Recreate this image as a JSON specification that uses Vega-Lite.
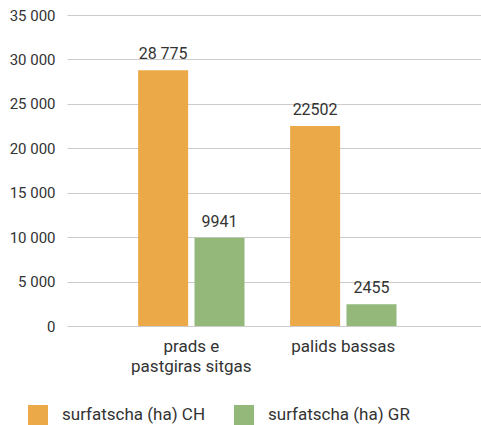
{
  "$schema": "https://vega.github.io/schema/vega-lite/v6.json",
  "width": 414,
  "height": 311,
  "autosize": {"type": "none"},
  "padding": {"left": 67, "top": 15, "right": 0, "bottom": 99},
  "background": "white",
  "config": {
    "font": "Roboto",
    "view": {"stroke": null},
    "axis": {"labelColor": "#333333", "labelFont": "Roboto"},
    "legend": {"labelColor": "#333333"}
  },
  "data": {
    "values": [
      {"kategoria": "prads e pastgiras sitgas", "serie": "surfatscha (ha) CH", "valur": 28775, "etichetta": "28 775"},
      {"kategoria": "prads e pastgiras sitgas", "serie": "surfatscha (ha) GR", "valur": 9941, "etichetta": "9941"},
      {"kategoria": "palids bassas", "serie": "surfatscha (ha) CH", "valur": 22502, "etichetta": "22502"},
      {"kategoria": "palids bassas", "serie": "surfatscha (ha) GR", "valur": 2455, "etichetta": "2455"}
    ]
  },
  "encoding": {
    "x": {
      "field": "kategoria",
      "type": "nominal",
      "sort": ["prads e pastgiras sitgas", "palids bassas"],
      "scale": {"paddingInner": 0.3, "paddingOuter": 0.512, "align": 0.457},
      "axis": {
        "title": null,
        "labelAngle": 0,
        "domain": false,
        "ticks": false,
        "labelFontSize": 17,
        "labelPadding": 12,
        "labelLineHeight": 20,
        "labelExpr": "datum.label == 'prads e pastgiras sitgas' ? ['prads e', 'pastgiras sitgas'] : datum.label"
      }
    },
    "xOffset": {
      "field": "serie",
      "type": "nominal",
      "scale": {"paddingInner": 0.113, "paddingOuter": 0}
    },
    "y": {
      "field": "valur",
      "type": "quantitative",
      "scale": {"domain": [0, 35000], "nice": false},
      "axis": {
        "title": null,
        "values": [0, 5000, 10000, 15000, 20000, 25000, 30000, 35000],
        "domain": false,
        "ticks": false,
        "labelFontSize": 15,
        "labelPadding": 12,
        "gridColor": "#cccccc",
        "gridWidth": 1.2,
        "labelExpr": "replace(format(datum.value, ','), ',', ' ')"
      }
    }
  },
  "layer": [
    {
      "mark": {"type": "bar"},
      "encoding": {
        "color": {
          "field": "serie",
          "type": "nominal",
          "scale": {"domain": ["surfatscha (ha) CH", "surfatscha (ha) GR"], "range": ["#EBAA47", "#93B87A"]},
          "legend": {
            "title": null,
            "orient": "none",
            "direction": "horizontal",
            "legendX": -39,
            "legendY": 390,
            "padding": 0,
            "symbolType": "square",
            "symbolSize": 400,
            "symbolStrokeWidth": 0,
            "labelFontSize": 17,
            "labelOffset": 14,
            "columnPadding": 28
          }
        }
      }
    },
    {
      "mark": {"type": "text", "baseline": "bottom", "dy": -8, "fontSize": 16, "color": "#333333"},
      "encoding": {
        "text": {"field": "etichetta"}
      }
    }
  ]
}
